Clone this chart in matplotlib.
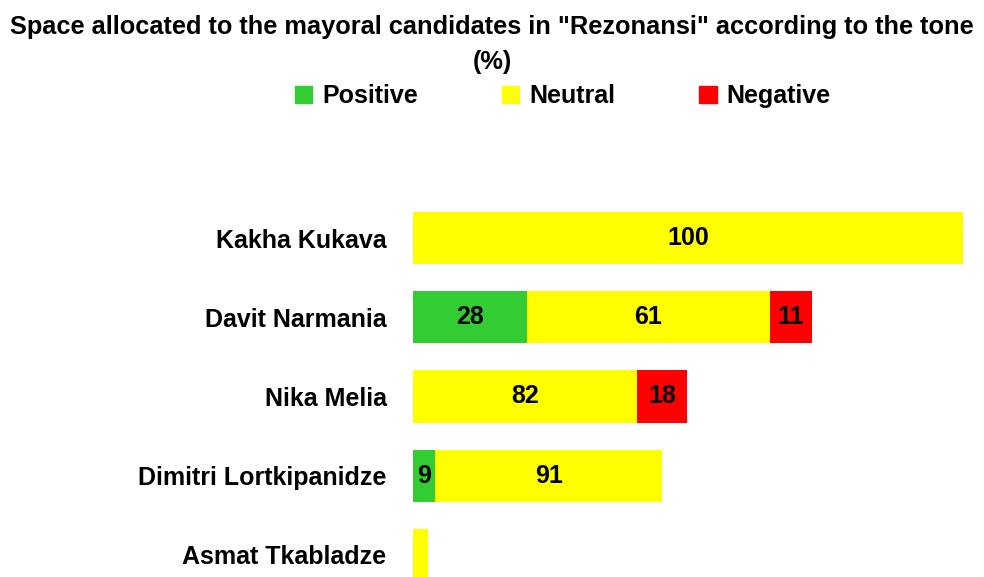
import matplotlib.pyplot as plt
import numpy as np
from matplotlib.patches import Patch

#%% Data
candidates = ['Kakha Kukava', 'Davit Narmania', 'Nika Melia',
              'Dimitri Lortkipanidze', 'Asmat Tkabladze']
# space allocated (relative units, bar lengths)
positive = [0.0, 20.7, 0.0, 4.0, 0.0]
neutral = [100.0, 44.2, 40.7, 41.3, 2.7]
negative = [0.0, 7.6, 9.1, 0.0, 0.0]
# percentage labels shown on the bars
positive_pct = ['', '28', '', '9', '']
neutral_pct = ['100', '61', '82', '91', '']
negative_pct = ['', '11', '18', '', '']

series = ['Positive', 'Neutral', 'Negative']
colors = ['#33CC33', '#FFFF00', '#FF0000']

plt.rcParams['font.family'] = ['Liberation Sans', 'DejaVu Sans']
plt.rcParams['font.weight'] = 'bold'

#%% Chart
fig = plt.figure(figsize=(9.84, 5.77), dpi=100)
ax = fig.add_axes([413/984, 0.0, 561/984, (577-198.5)/577])

y = np.arange(len(candidates))[::-1]
left = np.zeros(len(candidates))
for vals, labs, col in zip([positive, neutral, negative],
                           [positive_pct, neutral_pct, negative_pct], colors):
    vals = np.array(vals)
    ax.barh(y, vals, left=left, height=0.66, color=col)
    for yi, l, v, lab in zip(y, left, vals, labs):
        if lab:
            ax.text(l + v/2, yi, lab, ha='center', va='center',
                    fontsize=18, fontweight='bold')
    left = left + vals

ax.set_xlim(0, 102)
ax.set_ylim(-0.28, 4.5)
ax.set_yticks(y)
ax.set_yticklabels(candidates, fontsize=18, fontweight='bold')
ax.tick_params(axis='y', length=0, pad=19)
ax.set_xticks([])
for s in ax.spines.values():
    s.set_visible(False)

fig.text(0.5, 0.953, 'Space allocated to the mayoral candidates in "Rezonansi" according to the tone',
         ha='center', va='center', fontsize=18.3, fontweight='bold')
fig.text(0.5, 0.893, '(%)', ha='center', va='center', fontsize=18.3, fontweight='bold')

handles = [Patch(color=c, label=s) for s, c in zip(series, colors)]
fig.legend(handles=handles, loc='center', bbox_to_anchor=(0.572, 0.833), ncol=3,
           frameon=False, fontsize=18, handlelength=0.7, handleheight=0.7,
           handletextpad=0.4, columnspacing=3.35)

plt.savefig('out.png', dpi=100)
